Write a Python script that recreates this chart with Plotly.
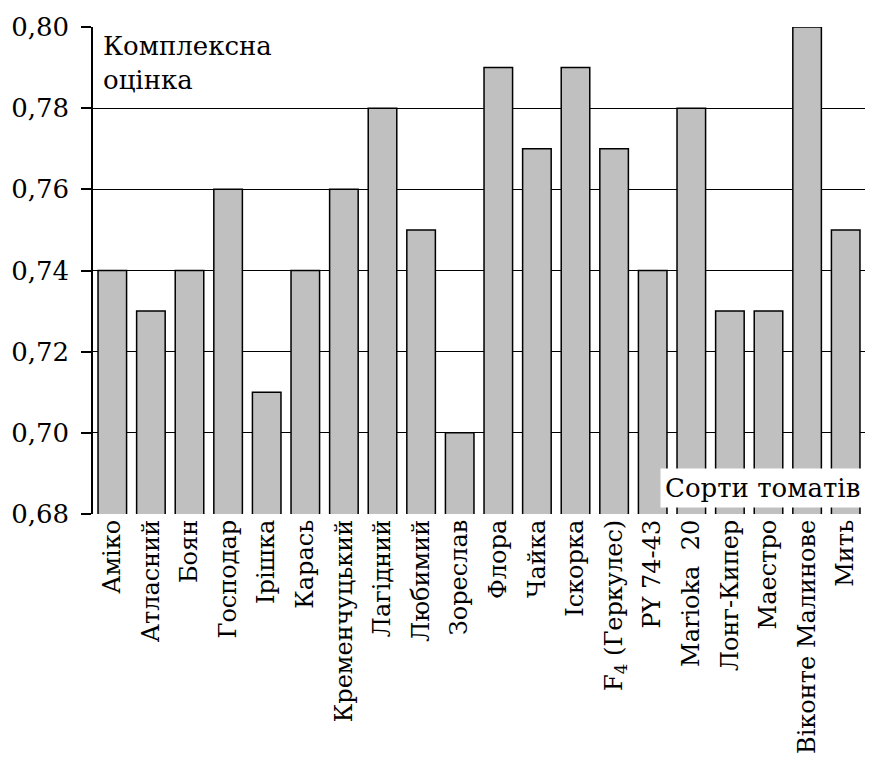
import plotly.graph_objects as go

categories = ["Аміко", "Атласний", "Боян", "Господар", "Ірішка", "Карась",
              "Кременчуцький", "Лагідний", "Любимий", "Зореслав", "Флора",
              "Чайка", "Іскорка", "F<sub>4</sub> (Геркулес)", "PY 74-43",
              "Marioka\u00a0\u00a020", "Лонг-Кипер", "Маестро", "Віконте Малинове", "Мить"]
values = [0.74, 0.73, 0.74, 0.76, 0.71, 0.74, 0.76, 0.78, 0.75, 0.70,
          0.79, 0.77, 0.79, 0.77, 0.74, 0.78, 0.73, 0.73, 0.80, 0.75]
y_ticks = [0.68, 0.70, 0.72, 0.74, 0.76, 0.78, 0.80]

FONT = "DejaVu Serif"

fig = go.Figure(go.Bar(
    x=categories, y=values,
    marker=dict(color="#c0c0c0", line=dict(color="black", width=1.5)),
))

fig.update_layout(
    width=857, height=747,
    margin=dict(l=85, r=0, t=19, b=241),
    plot_bgcolor="white", paper_bgcolor="white",
    separators=", ",
    bargap=0.26,
    showlegend=False,
    font=dict(family=FONT, color="black", size=24),
    xaxis=dict(tickangle=-90, tickfont=dict(size=24, family=FONT, color="black"),
               showline=False, ticks="", showgrid=False),
    yaxis=dict(range=[0.68, 0.80], tickvals=y_ticks, tickformat=".2f",
               tickfont=dict(size=26, family=FONT, color="black"),
               ticklabelstandoff=7,
               showline=True, linecolor="black", linewidth=1.5,
               ticks="outside", ticklen=10, tickcolor="black", tickwidth=1.5,
               showgrid=True, gridcolor="black", gridwidth=1,
               zeroline=False),
    annotations=[
        dict(text="Комплексна<br>оцінка", xref="paper", yref="paper",
             x=0.01, y=0.995, xanchor="left", yanchor="top", showarrow=False,
             align="left", font=dict(size=26, family=FONT, color="black")),
        dict(text="Сорти томатів", xref="paper", yref="paper",
             x=1.0, y=0.012, xanchor="right", yanchor="bottom", showarrow=False,
             bgcolor="white", borderpad=4,
             font=dict(size=26, family=FONT, color="black")),
    ],
)

fig.write_html("out.html")
